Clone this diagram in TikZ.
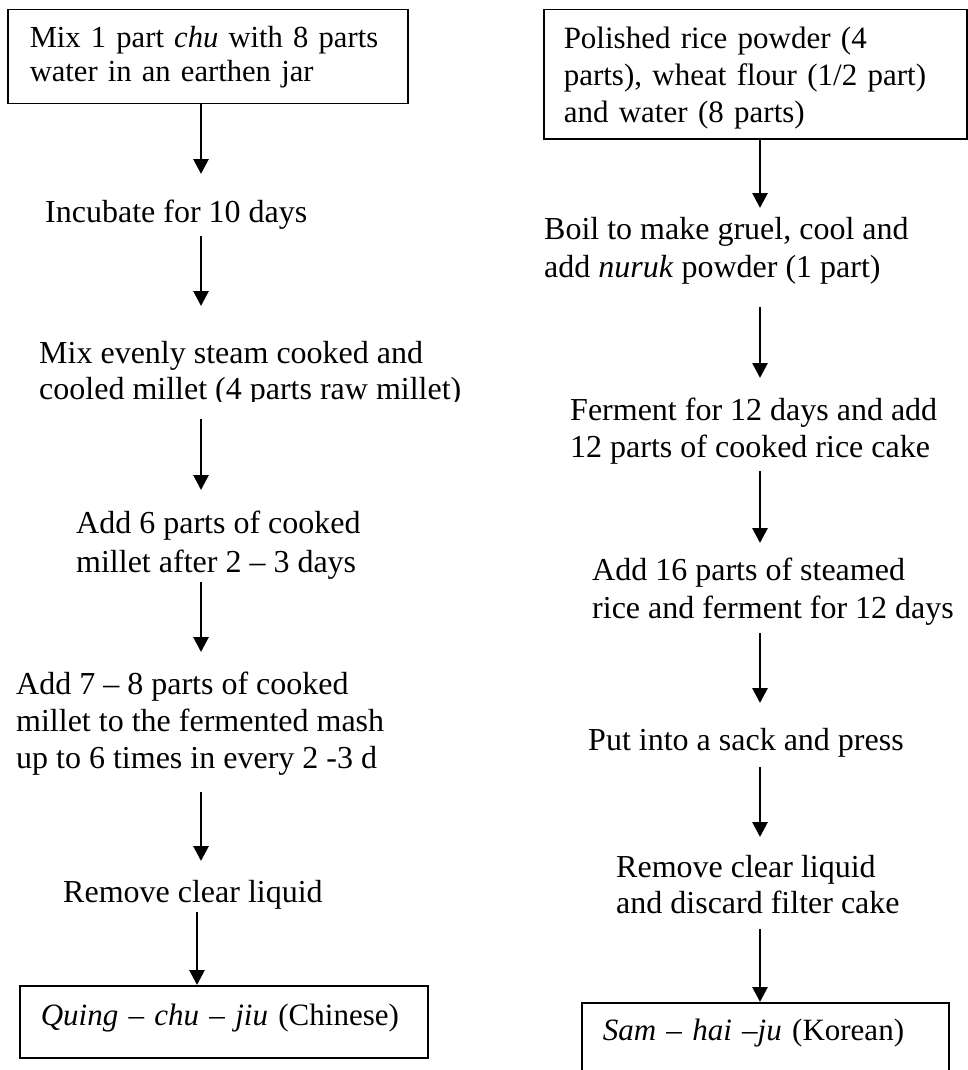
\documentclass[tikz,border=0pt]{standalone}
\usepackage{fontspec}
\setmainfont{Liberation Serif}
\usetikzlibrary{arrows.meta}

\begin{document}
\begin{tikzpicture}[
  x=1pt, y=-1pt,
  every node/.style={font=\fontsize{32}{37}\selectfont},
  stepbox/.style={draw, line width=1.5pt, align=left, inner ysep=0pt, anchor=north west},
  steptext/.style={align=left, inner sep=0pt, anchor=base west},
  flow/.style={line width=2.8pt, -{Triangle[width=15pt,length=15pt]}}
]
  \useasboundingbox (0,0) rectangle (968,1070);
  \clip (0,0) rectangle (968,1070);

  % Chinese column (multi-line texts sit on their last baseline)
  \node[stepbox, text width=356pt, inner xsep=22pt, text height=38pt, text depth=56pt,
        font=\fontsize{30.6}{34}\selectfont] (mixjar) at (7,9)
    {Mix 1 part \textit{chu} with 8 parts\\water in an earthen jar};
  \node[steptext] (incub) at (45,222) {Incubate for 10 days};
  \begin{scope}
    \clip (0,0) rectangle (484,401);
    \node[steptext, font=\fontsize{32}{36}\selectfont] (millet) at (39,399)
      {Mix evenly steam cooked and\\cooled millet (4 parts raw millet)};
  \end{scope}
  \node[steptext, font=\fontsize{32}{39}\selectfont] (addsix) at (76,572)
    {Add 6 parts of cooked\\millet after 2 -- 3 days};
  \node[steptext] (addseven) at (16,768)
    {Add 7 -- 8 parts of cooked\\millet to the fermented mash\\up to 6 times in every 2 -3 d};
  \node[steptext] (clearL) at (63,902) {Remove clear liquid};
  \node[stepbox, text width=366pt, inner xsep=21pt, text height=40pt, text depth=32pt,
        font=\fontsize{31}{37}\selectfont] (quing) at (19,985)
    {\textit{Quing -- chu -- jiu} (Chinese)};

  % Korean column
  \node[stepbox, text width=383pt, inner xsep=20pt, text height=39pt, text depth=90pt,
        font=\fontsize{31}{37}\selectfont] (polished) at (543,9)
    {Polished rice powder (4\\parts), wheat flour (1/2 part)\\and water (8 parts)};
  \node[steptext, font=\fontsize{32}{38}\selectfont] (boil) at (544,277)
    {Boil to make gruel, cool and\\add \textit{nuruk} powder (1 part)};
  \node[steptext] (ferment) at (570,457) {Ferment for 12 days and add\\12 parts of cooked rice cake};
  \node[steptext, font=\fontsize{32}{38}\selectfont] (addsixteen) at (592,618)
    {Add 16 parts of steamed\\rice and ferment for 12 days};
  \node[steptext] (press) at (588,750) {Put into a sack and press};
  \node[steptext, font=\fontsize{32}{36}\selectfont] (clearR) at (616,913)
    {Remove clear liquid\\and discard filter cake};
  \node[stepbox, text width=325pt, inner xsep=21pt, text height=38pt, text depth=60pt,
        font=\fontsize{31}{37}\selectfont] (korean) at (581,1002)
    {\textit{Sam -- hai --ju} (Korean)};

  % arrow ends
  \coordinate (colL) at (201,0);
  \coordinate (colR) at (760,0);
  \coordinate (incubT) at (201,174);
  \coordinate (incubB) at (201,236);
  \coordinate (milletT) at (201,306);
  \coordinate (milletB) at (201,419);
  \coordinate (addsixT) at (201,490);
  \coordinate (addsixB) at (201,582);
  \coordinate (addsevenT) at (201,652);
  \coordinate (addsevenB) at (201,792);
  \coordinate (clearLT) at (201,861);
  \coordinate (clearLB) at (197,912);
  \coordinate (boilT) at (760,208);
  \coordinate (boilB) at (760,307);
  \coordinate (fermentT) at (760,378);
  \coordinate (fermentB) at (760,471);
  \coordinate (addsixteenT) at (760,543);
  \coordinate (addsixteenB) at (760,633);
  \coordinate (pressT) at (760,703);
  \coordinate (pressB) at (760,767);
  \coordinate (clearRT) at (760,837);
  \coordinate (clearRB) at (760,929);

  \draw[flow] (mixjar.south -| colL) -- (incubT);
  \draw[flow] (incubB) -- (milletT);
  \draw[flow] (milletB) -- (addsixT);
  \draw[flow] (addsixB) -- (addsevenT);
  \draw[flow] (addsevenB) -- (clearLT);
  \draw[flow] (clearLB) -- (quing.north -| clearLB);

  \draw[flow] (polished.south -| colR) -- (boilT);
  \draw[flow] (boilB) -- (fermentT);
  \draw[flow] (fermentB) -- (addsixteenT);
  \draw[flow] (addsixteenB) -- (pressT);
  \draw[flow] (pressB) -- (clearRT);
  \draw[flow] (clearRB) -- (korean.north -| colR);
\end{tikzpicture}
\end{document}
